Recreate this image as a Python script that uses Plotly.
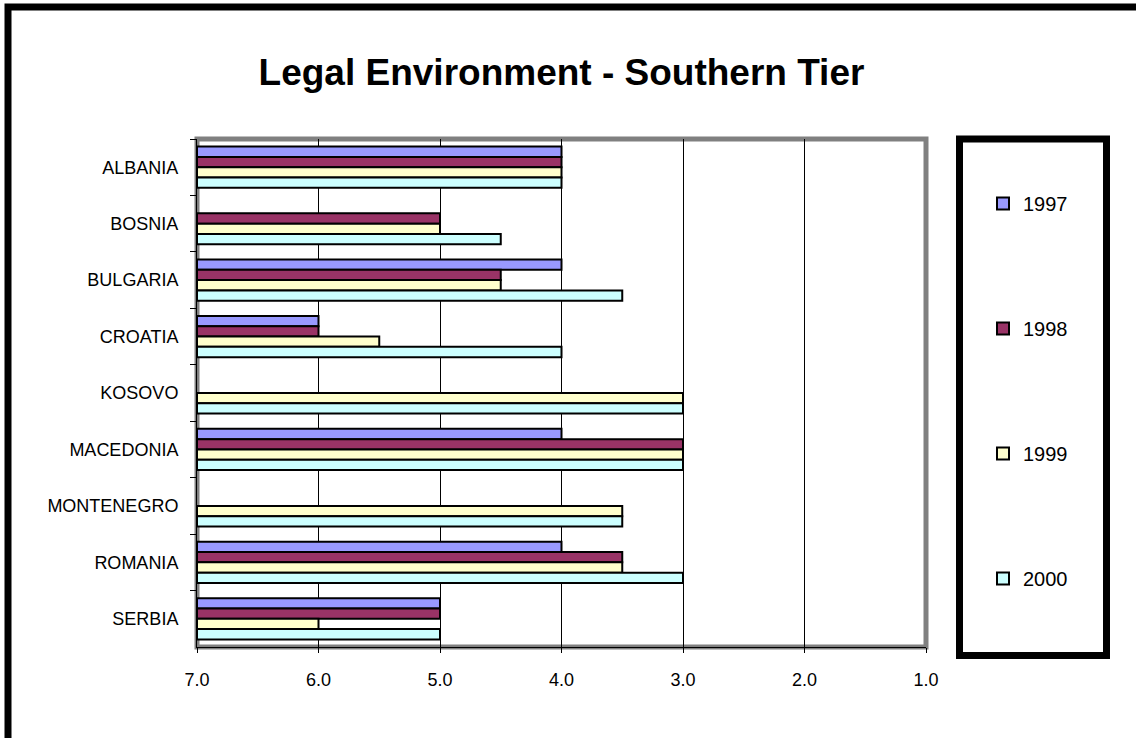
import plotly.graph_objects as go

# Legal environment ratings (7 = worst, 1 = best); None where no rating was given
countries = ["ALBANIA", "BOSNIA", "BULGARIA", "CROATIA", "KOSOVO",
             "MACEDONIA", "MONTENEGRO", "ROMANIA", "SERBIA"]
years = ["1997", "1998", "1999", "2000"]
r1997 = [4.0, None, 4.0, 6.0, None, 4.0, None, 4.0, 5.0]
r1998 = [4.0, 5.0, 4.5, 6.0, None, 3.0, None, 3.5, 5.0]
r1999 = [4.0, 5.0, 4.5, 5.5, 3.0, 3.0, 3.5, 3.5, 6.0]
r2000 = [4.0, 4.5, 3.5, 4.0, 3.0, 3.0, 3.5, 3.0, 5.0]
x_ticks = [7, 6, 5, 4, 3, 2, 1]
x_tick_text = ["7.0", "6.0", "5.0", "4.0", "3.0", "2.0", "1.0"]

series = [r1997, r1998, r1999, r2000]
colors = ["#9999FF", "#993366", "#FFFFCC", "#CCFFFF"]

# Bars grow from the scale's worst end (7) towards the rating
BASE = 7.0

W, H = 1136, 738
L, R, T, B = 197, 926, 139, 647  # plot area in pixels
PW, PH = R - L, B - T


def px_x(p):
    return (p - L) / PW


def px_y(p):
    return (B - p) / PH


FONT = "Liberation Sans, Arial, sans-serif"

fig = go.Figure()
for yr, vals, col in zip(years, series, colors):
    fig.add_trace(go.Bar(
        name=yr,
        y=countries,
        x=[None if v is None else v - BASE for v in vals],
        base=BASE,
        orientation="h",
        marker=dict(color=col, line=dict(color="black", width=2)),
        legendgroup=yr,
    ))

fig.update_layout(
    width=W, height=H,
    margin=dict(l=L, r=W - R, t=T, b=H - B, pad=0),
    paper_bgcolor="white",
    plot_bgcolor="white",
    barmode="group",
    bargap=0.27,
    bargroupgap=0,
    font=dict(family=FONT, color="black"),
    title=dict(
        text="<b>Legal Environment - Southern Tier</b>",
        x=0.5, xanchor="center", xref="paper",
        y=1 - 72 / H, yanchor="middle", yref="container",
        font=dict(family=FONT, size=37, color="black"),
    ),
    xaxis=dict(
        range=[7, 1],
        tickvals=x_ticks,
        ticktext=x_tick_text,
        showgrid=True, gridcolor="black", gridwidth=1,
        zeroline=False,
        showline=True, linecolor="black", linewidth=1,
        ticks="outside", ticklen=5, tickcolor="black", tickwidth=1,
        ticklabelstandoff=11,
        tickfont=dict(family=FONT, size=18, color="black"),
    ),
    yaxis=dict(
        autorange="reversed",
        showgrid=False,
        showline=True, linecolor="black", linewidth=1,
        ticks="outside", ticklen=6, tickcolor="black", tickwidth=1,
        tickson="boundaries",
        ticklabelstandoff=14,
        tickfont=dict(family=FONT, size=18, color="black"),
    ),
    legend=dict(
        x=px_x(983), xanchor="left",
        y=px_y(184), yanchor="top",
        traceorder="grouped",
        tracegroupgap=96,
        bgcolor="rgba(0,0,0,0)",
        borderwidth=0,
        font=dict(family=FONT, size=20, color="black"),
    ),
    shapes=[
        # grey frame of the plotting area
        dict(type="rect", xref="paper", yref="paper",
             x0=0, x1=1, y0=0, y1=1,
             line=dict(color="#808080", width=5), layer="below"),
        # legend box
        dict(type="rect", xref="paper", yref="paper",
             x0=px_x(959.5), x1=px_x(1106.5),
             y0=px_y(655.5), y1=px_y(139),
             line=dict(color="black", width=7)),
        # outer chart frame
        dict(type="rect", xref="paper", yref="paper",
             x0=px_x(8), x1=px_x(1300),
             y0=px_y(900), y1=px_y(7),
             line=dict(color="black", width=7)),
    ],
)

fig.write_html("out.html")
